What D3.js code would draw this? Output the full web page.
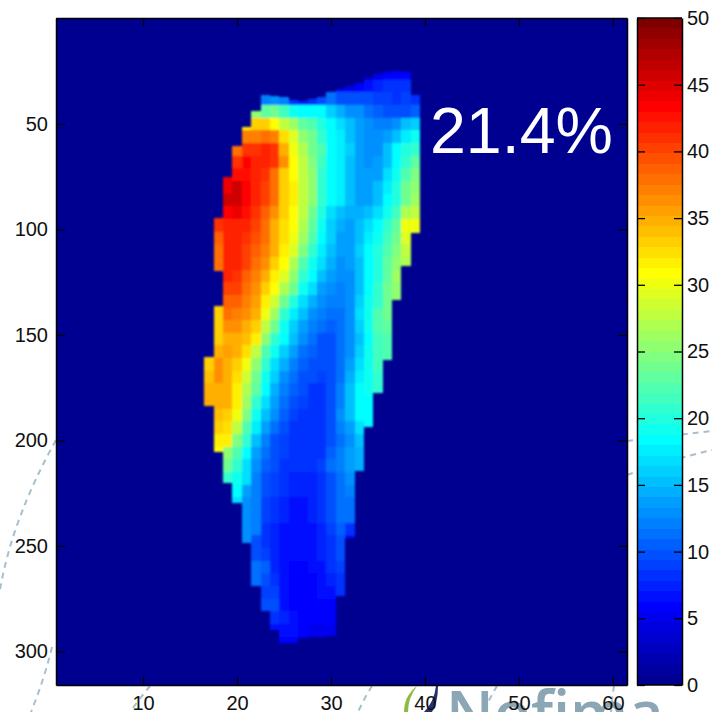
<!DOCTYPE html>
<html>
<head>
<meta charset="utf-8">
<style>
html,body{margin:0;padding:0;background:#fff;overflow:hidden}
svg{display:block}
text{font-family:"Liberation Sans",Arial,sans-serif;fill:#111}
</style>
<script src="https://cdn.jsdelivr.net/npm/d3@7"></script>
</head>
<body>
<svg id="chart" width="712" height="712"></svg>
<script>
const xTicks=[10,20,30,40,50,60];
const yTicks=[50,100,150,200,250,300];
const barTicks=[0,5,10,15,20,25,30,35,40,45,50];
const annotation="21.4%";
const logoText="Nofima";
const columns=[17,18,19,20,21,22,23,24,25,26,27,28,29,30,31,32,33,34,35,36,37,38,39];
const columnTop=[160.4,94.5,75,60.4,51.4,43.8,36.3,36.7,37.2,38.6,39.1,38.2,37.2,34.8,33.4,32,30.6,28.2,26.3,25.4,24.9,25.4,36.3];
const columnBottom=[183.6,205.5,220,229.6,248.6,269.4,280.8,289.8,296,296,293.6,293.1,293.1,292.6,273.7,246.2,214.5,193.6,177.5,161.8,133.4,117.3,101.7];
const col18Gap=[119.7,136.3];
const rowCentres=[26,32,38,44,50,56,62,68,74,80,86,92,98,104,110,116,122,128,134,140,146,152,158,164,170,176,182,188,194,200,206,212,218,224,230,236,242,248,254,260,266,272,278,284,290,296];
const rowStart=[34,30,23,22,21,21,20,20,19,19,19,18,18,18,18,18,18,19,18,18,18,18,17,17,17,17,17,18,18,18,18,19,19,20,20,21,21,21,22,22,22,23,23,24,24,25];
const rowValues=[
[5,5,5.5,6,6],
[5,6,5,6,7,7.5,8,8,8],
[12,13,12,8,7.5,8.5,10,11,9.5,9.5,9.5,9.5,9,9,8.5,9,8],
[25,23,23.5,21.5,19.5,18,18.5,18,16,14.5,13,12.5,11.5,10.5,10,9.5,10,10.5],
[32,33,33,31,28,26,23,22,20,18.5,17,15,14,13,12,12,13,15,16],
[37,37,38,37,32.5,29,25,23.5,21,18.5,17.5,15.5,14,13,13,13.5,15.5,17.5,19],
[38,41,41,42,41,35,30,27,24,22,18,17.5,16,13.5,13,13,15,18,20,21],
[41,43,42,42,41,36,31,27.5,24.5,21.5,18,17.5,15.5,13.5,13,13.5,15,18.5,21,23],
[44,42.5,42.5,42,41,38,33.5,31,28,25,21,18,17.5,15,14,14,14,16.5,19,22,24.5],
[44.5,45.5,43.5,42,40.5,38,33.5,31.5,28,25,21,18,17.5,15,14,14,15,17.5,20,23.5,25.5],
[46,46,43,42,40,37.5,33,31.5,28,25,20.5,18,17.5,15,14,14,15,18,20,24,26],
[41,43.5,44,42.5,41,39,36,33,31,27.5,24,20,17,15.5,14.5,14.5,15.5,17,19,21.5,27,28],
[41,42,42,41.5,40,37.5,35,32.5,31,27,23,19,16,14.5,14,15,17,18.5,20.5,23,30,30],
[39,42,42,41,39.5,37.5,35,32.5,30,26,22,18.5,16,14,14,15.5,17.5,19,21.5,24,29,28.5],
[38,42,42,40.5,39,37,34.5,32,29,24.5,20.5,17.5,15,13.5,14,16,18,20,22.5,24.5,27.5],
[37.5,42,42,40,38,36,33.5,31,27,22.5,19,16.5,14.5,13,13.5,15.5,18,20,23,25,27],
[37,41.5,41,38.5,37,34.5,32,29,25.5,20.5,18,15.5,13.5,12.5,13,15,18.5,20,23,26],
[40,40,38,36,33,31,27,23.5,19,16.5,14,12.5,12,12.5,15,18,20.5,23.5,25.5],
[33,38.5,38.5,37,35.5,32,28.5,24,20,17,14.5,13,12,12,13,16,19,21,24,25],
[33,37.5,37,36,34.5,30,26,21,17.5,15,13,12,11,11.5,13,17,19.5,22,24],
[33.5,36,36,35,33.5,28,23.5,19.5,16,14,12,11,10.5,11,12.5,16,19,22,23],
[33.5,35,35,34,32,25.5,21,18,15,13,11,10,10,11,12.5,15,18.5,21.5,22],
[33,34.5,35.5,34.5,32.5,28,22.5,19,16,13.5,11.5,10.5,10,10,11,13,16,19,21.5,22],
[33,36,35,33,30,25,20.5,17,14.5,12,10.5,10,9.5,10,11,14,17,19.5,21.5,22],
[34,36,35,32.5,28.5,24,19,16,13,11,10,9.5,9,10,11.5,14.5,17.5,19.5,21],
[34.5,35,35,32,27,23,18,14.5,12,10.5,9.5,8.5,8.5,10,12,15,18,19,21],
[35,35,34.5,31.5,26,21,17,13.5,11.5,10,9,8.5,8.5,10,12,15,18,18.5],
[34,33.5,30,24.5,19.5,15.5,12.5,10.5,9,8.5,8.5,8.5,10,12.5,15,18,18.5],
[33,32.5,28,22.5,17.5,13.5,11,10,8.5,8.5,8.5,8,10,12,14,16.5,18.5],
[31.5,31.5,24.5,20.5,15.5,12,10,9,8.5,8,8,8,9.5,11.5,13,15],
[31,25,22,18.5,14,11,9.5,9,8.5,8,8,8.5,10.5,12,13.5,14.5],
[23.5,21,17,13,10.5,9.5,8.5,8,8,8,9,11,12,13.5,14.5],
[21,19,16.5,12,10,9,8,7.5,7.5,7.5,8.5,10,11.5,12.5],
[18,14,12,9.5,9,8,7.5,7.5,7.5,8.5,10,11.5,12],
[17,13,12,9,8.5,7.5,7,7,7.5,8.5,9.5,11,11.5],
[13,12,9,8.5,7.5,7,7,7.5,8.5,9.5,11,11.5],
[12.5,12,8,7.5,7,6.5,7,7,7.5,9,10.5,8],
[12.5,10,8.5,7.5,6.5,6.5,6.5,7,7.5,8.5,10,7],
[9.5,9,7.5,6.5,6.5,6.5,6.5,7.5,8.5,9.5],
[11,10.5,7.5,6.5,6,6,6.5,7,8,9],
[11,10,8.5,6.5,6,6,6,7,7.5,8.5],
[9,9,7,6,6,6,6.5,7,8],
[9.5,9.5,7,6,6,6,6,6],
[8,7.5,6.5,6,5.5,5.5,5.5],
[7,6.5,6.5,5.5,5,5,5],
[5.5,5.5,5,5,5,5]
];
const jetLevels=64, valueMax=50;
const jetPositions=[0,7,23,39,55,63];
const jetColours=["#000090","#0000ff","#00ffff","#ffff00","#ff0000","#800000"];

const svg=d3.select("#chart");
const plot={l:56,r:627,t:18,b:685};
const bar={l:637,r:682};
const x=d3.scaleLinear().domain([0.73,61.5]).range([plot.l,plot.r]);
const y=d3.scaleLinear().domain([-0.2,315.9]).range([plot.t,plot.b]);
const barY=d3.scaleLinear().domain([0,valueMax]).range([plot.b,plot.t]);
const jet=d3.scaleLinear().domain(jetPositions).range(jetColours).interpolate(d3.interpolateRgb);
const colourOf=v=>jet(Math.min(jetLevels-1,Math.floor(v/valueMax*jetLevels)));

svg.append("defs").append("filter").attr("id","soft").attr("x","-5%").attr("y","-5%").attr("width","110%").attr("height","110%")
 .append("feGaussianBlur").attr("stdDeviation",0.9);

// watermark behind the figure
const wm=svg.append("g").attr("fill","none").attr("stroke","#a9bfcb").attr("stroke-width",2).attr("stroke-dasharray","6 5");
["M56 440Q12 519 0 590","M52 647Q44 680 31 712","M150 686Q140 698 130 712","M372 686Q365 697 358 712","M497 686Q490 698 483 712","M614 686Q612 698 611 712","M627 441Q670 436 712 431","M627 475Q670 460 712 450"]
 .forEach(d=>wm.append("path").attr("d",d));
svg.append("path").attr("d","M417 686Q404 696 404 712L408 712Q408 698 417 686Z").attr("fill","#8dbb3f");
svg.append("path").attr("d","M436 686Q434 702 424 712L432 712Q438 702 438 686Z").attr("fill","#27306f");
svg.append("text").attr("x",446).attr("y",735).attr("font-size",61).attr("font-weight",600)
 .style("font-family","'Open Sans',sans-serif").style("fill","#8ba6b4").text(logoText);

// heat map
const gMap=svg.append("g").attr("shape-rendering","crispEdges");
gMap.append("rect").attr("x",plot.l).attr("y",plot.t).attr("width",plot.r-plot.l).attr("height",plot.b-plot.t).attr("fill",colourOf(0));
const cells=[];
rowValues.forEach((vals,i)=>vals.forEach((v,j)=>{
  const c=rowStart[i]+j, k=columns.indexOf(c);
  if(k<0) return;
  let a=Math.max(rowCentres[i]-3,columnTop[k]), b=Math.min(rowCentres[i]+3,columnBottom[k]);
  if(c===18 && a>=col18Gap[0] && b<=col18Gap[1]) return;
  if(c===18 && a<col18Gap[0] && b>col18Gap[0]) b=col18Gap[0];
  if(c===18 && a<col18Gap[1] && b>col18Gap[1]) a=col18Gap[1];
  if(b>a) cells.push({c,a,b,v});
}));
gMap.append("g").attr("filter","url(#soft)").selectAll("rect.cell").data(cells).join("rect").attr("class","cell")
 .attr("x",d=>x(d.c-0.5)).attr("width",d=>x(d.c+0.5)-x(d.c-0.5))
 .attr("y",d=>y(d.a)).attr("height",d=>y(d.b)-y(d.a)).attr("fill",d=>colourOf(d.v));

// colour bar
const levels=d3.range(jetLevels);
svg.append("g").attr("shape-rendering","crispEdges").selectAll("rect").data(levels).join("rect")
 .attr("x",bar.l).attr("width",bar.r-bar.l)
 .attr("y",d=>barY((d+1)/jetLevels*valueMax)).attr("height",d=>barY(d/jetLevels*valueMax)-barY((d+1)/jetLevels*valueMax))
 .attr("fill",d=>jet(d));

function style(g,size){
  g.selectAll(".domain").attr("stroke","#000").attr("stroke-width",1.5);
  g.selectAll(".tick line").attr("stroke","#000").attr("stroke-width",1.3);
  g.selectAll("text").attr("font-size",size).style("fill","#111");
}
svg.append("g").attr("transform",`translate(0,${plot.b})`)
 .call(d3.axisBottom(x).tickValues(xTicks).tickSizeInner(-8).tickSizeOuter(0).tickPadding(11)).call(style,20);
svg.append("g").attr("transform",`translate(0,${plot.t})`)
 .call(d3.axisTop(x).tickValues(xTicks).tickSizeInner(-8).tickSizeOuter(0).tickFormat("")).call(style,20);
svg.append("g").attr("transform",`translate(${plot.l},0)`)
 .call(d3.axisLeft(y).tickValues(yTicks).tickSizeInner(-9).tickSizeOuter(0).tickPadding(8)).call(style,20);
svg.append("g").attr("transform",`translate(${plot.r},0)`)
 .call(d3.axisRight(y).tickValues(yTicks).tickSizeInner(-9).tickSizeOuter(0).tickFormat("")).call(style,20);
svg.append("g").attr("transform",`translate(${bar.r},0)`)
 .call(d3.axisRight(barY).tickValues(barTicks).tickSizeInner(-8).tickSizeOuter(0).tickPadding(5)).call(style,20);
svg.append("g").attr("transform",`translate(${bar.l},0)`)
 .call(d3.axisLeft(barY).tickValues(barTicks).tickSizeInner(-8).tickSizeOuter(0).tickFormat("")).call(style,20);
svg.append("line").attr("x1",bar.l).attr("x2",bar.r).attr("y1",plot.t).attr("y2",plot.t).attr("stroke","#000").attr("stroke-width",1.5);
svg.append("line").attr("x1",bar.l).attr("x2",bar.r).attr("y1",plot.b).attr("y2",plot.b).attr("stroke","#000").attr("stroke-width",1.5);

svg.append("text").attr("x",430).attr("y",153).attr("font-size",64.5).style("fill","#fff").text(annotation);
</script>
</body>
</html>
